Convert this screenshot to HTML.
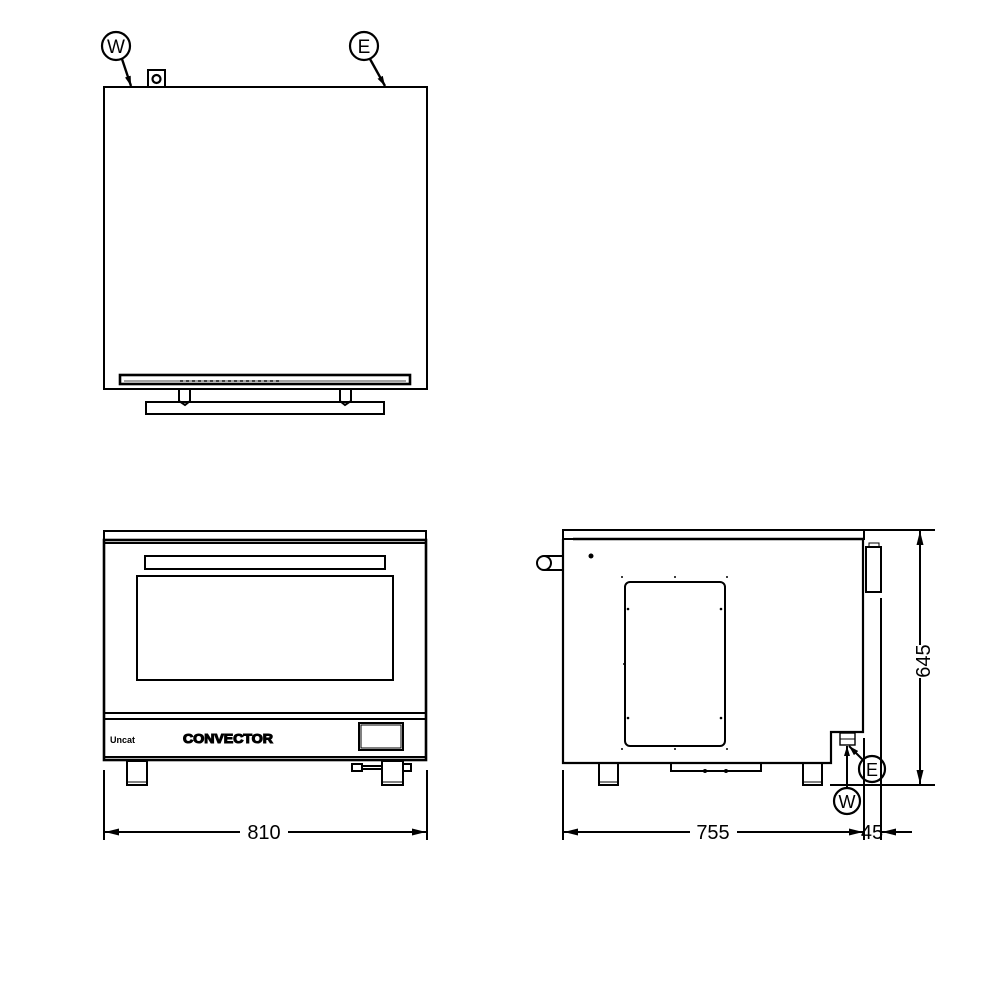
<!DOCTYPE html>
<html><head><meta charset="utf-8"><style>
html,body{margin:0;padding:0;background:#fff;width:1000px;height:1000px;overflow:hidden}
svg{display:block}
text{font-family:"Liberation Sans",sans-serif;fill:#000}
</style></head><body>
<svg width="1000" height="1000" viewBox="0 0 1000 1000" xmlns="http://www.w3.org/2000/svg">
<defs>
<marker id="ah" viewBox="0 0 10 6" refX="10" refY="3" markerWidth="10" markerHeight="6" markerUnits="userSpaceOnUse" orient="auto"><path d="M0,0 L10,3 L0,6 z" fill="#000"/></marker>
<marker id="ah2" viewBox="0 0 12 6" refX="12" refY="3" markerWidth="14" markerHeight="7" markerUnits="userSpaceOnUse" orient="auto"><path d="M0,0 L12,3 L0,6 z" fill="#000"/></marker>
</defs>
<g fill="none" stroke="#000" stroke-width="2">
<!-- TOP VIEW -->
<rect x="104" y="87" width="323" height="302"/>
<rect x="148" y="70" width="17" height="17"/>
<circle cx="156.5" cy="79" r="4" stroke-width="2.2"/>
<line x1="143" y1="87" x2="170" y2="87"/>
<rect x="120" y="375" width="290" height="9" stroke-width="2.6"/>
<line x1="124" y1="381" x2="406" y2="381" stroke-width="1" stroke="#444"/>
<line x1="180" y1="381" x2="280" y2="381" stroke-width="1.5" stroke-dasharray="3 3"/>
<path d="M179,389 V401 L185,405 L190,401 V389"/>
<path d="M340,389 V401 L345,405 L351,401 V389"/>
<rect x="146" y="402" width="238" height="12"/>
<circle cx="116" cy="46" r="14" stroke-width="2.2"/>
<circle cx="364" cy="46" r="14" stroke-width="2.2"/>
<line x1="122" y1="59" x2="131" y2="86" stroke-width="2.4" marker-end="url(#ah)"/>
<line x1="370" y1="59" x2="385" y2="86" stroke-width="2.4" marker-end="url(#ah)"/>

<!-- FRONT VIEW -->
<rect x="104" y="531" width="322" height="9"/>
<rect x="104" y="540" width="322" height="220" stroke-width="2.6"/>
<line x1="104" y1="543" x2="426" y2="543"/>
<rect x="145" y="556" width="240" height="13"/>
<rect x="137" y="576" width="256" height="104"/>
<line x1="104" y1="713" x2="426" y2="713"/>
<line x1="104" y1="719" x2="426" y2="719"/>
<line x1="104" y1="757" x2="426" y2="757"/>
<rect x="359" y="723" width="44" height="27"/>
<rect x="361" y="725" width="40" height="23" stroke-width="1"/>
<rect x="127" y="761" width="20" height="24"/>
<line x1="127" y1="782" x2="147" y2="782" stroke-width="1"/>
<rect x="382" y="761" width="21" height="24"/>
<line x1="382" y1="782" x2="403" y2="782" stroke-width="1"/>
<rect x="352" y="764" width="10" height="7"/>
<line x1="362" y1="766" x2="382" y2="766"/><line x1="362" y1="769" x2="382" y2="769"/>
<rect x="403" y="764" width="8" height="7"/>
<line x1="104" y1="770" x2="104" y2="840"/>
<line x1="427" y1="770" x2="427" y2="840"/>
<line x1="240" y1="832" x2="105" y2="832" marker-end="url(#ah2)"/>
<line x1="288" y1="832" x2="426" y2="832" marker-end="url(#ah2)"/>

<!-- SIDE VIEW -->
<rect x="563" y="530" width="301" height="9"/>
<line x1="573" y1="539" x2="864" y2="539" stroke-width="2.6"/>
<path d="M563,539 V763 H831 V732 H863 V539" stroke-width="2.2"/>
<circle cx="544" cy="563" r="7"/>
<line x1="544" y1="556" x2="563" y2="556"/><line x1="544" y1="570" x2="563" y2="570"/>
<rect x="625" y="582" width="100" height="164" rx="5"/>
<rect x="671" y="763" width="90" height="8"/>
<rect x="599" y="763" width="19" height="22"/>
<line x1="599" y1="782" x2="618" y2="782" stroke-width="1"/>
<rect x="803" y="763" width="19" height="22"/>
<line x1="803" y1="782" x2="822" y2="782" stroke-width="1"/>
<rect x="866" y="547" width="15" height="45"/>
<rect x="869" y="543" width="10" height="4" stroke-width="1"/>
<rect x="840" y="733" width="15" height="12" stroke-width="1.4"/>
<line x1="840" y1="739" x2="855" y2="739" stroke-width="1"/>
<!-- dims side -->
<line x1="864" y1="530" x2="935" y2="530"/>
<line x1="830" y1="785" x2="935" y2="785"/>
<line x1="920" y1="645" x2="920" y2="531" marker-end="url(#ah2)"/>
<line x1="920" y1="678" x2="920" y2="784" marker-end="url(#ah2)"/>
<line x1="563" y1="770" x2="563" y2="840"/>
<line x1="864" y1="738" x2="864" y2="840"/>
<line x1="881" y1="598" x2="881" y2="840"/>
<line x1="690" y1="832" x2="564" y2="832" marker-end="url(#ah2)"/>
<line x1="737" y1="832" x2="863" y2="832" marker-end="url(#ah2)"/>
<line x1="912" y1="832" x2="882" y2="832" marker-end="url(#ah2)"/>
<circle cx="872" cy="769" r="13" stroke-width="2.2"/>
<circle cx="847" cy="801" r="13" stroke-width="2.2"/>
<line x1="847" y1="788" x2="847" y2="746" stroke-width="2" marker-end="url(#ah)"/>
<line x1="863" y1="760" x2="849" y2="746" stroke-width="2" marker-end="url(#ah)"/>
</g>
<g fill="#000">
<circle cx="591" cy="556" r="2.5"/>
<circle cx="622" cy="577" r="1"/><circle cx="675" cy="577" r="1"/><circle cx="727" cy="577" r="1"/>
<circle cx="622" cy="749" r="1"/><circle cx="675" cy="749" r="1"/><circle cx="727" cy="749" r="1"/>
<circle cx="628" cy="609" r="1.3"/><circle cx="721" cy="609" r="1.3"/>
<circle cx="624" cy="664" r="1"/><circle cx="725" cy="664" r="1"/>
<circle cx="628" cy="718" r="1.3"/><circle cx="721" cy="718" r="1.3"/>
<circle cx="705" cy="771" r="2"/><circle cx="726" cy="771" r="2"/>
</g>
<text x="116" y="53" font-size="19" text-anchor="middle">W</text>
<text x="364" y="53" font-size="19" text-anchor="middle">E</text>
<text x="110" y="743" font-size="9" font-weight="bold">Uncat</text>
<text x="183" y="743" font-size="13" font-weight="bold" fill="#fff" stroke="#000" stroke-width="1.1" textLength="90" lengthAdjust="spacingAndGlyphs">CONVECTOR</text>
<text x="264" y="839" font-size="20" text-anchor="middle">810</text>
<text x="713" y="839" font-size="20" text-anchor="middle">755</text>
<text x="872" y="839" font-size="20" text-anchor="middle">45</text>
<text x="0" y="0" font-size="20" text-anchor="middle" transform="translate(930,661) rotate(-90)">645</text>
<text x="872" y="776" font-size="18" text-anchor="middle">E</text>
<text x="847" y="808" font-size="18" text-anchor="middle">W</text>
</svg>
</body></html>
